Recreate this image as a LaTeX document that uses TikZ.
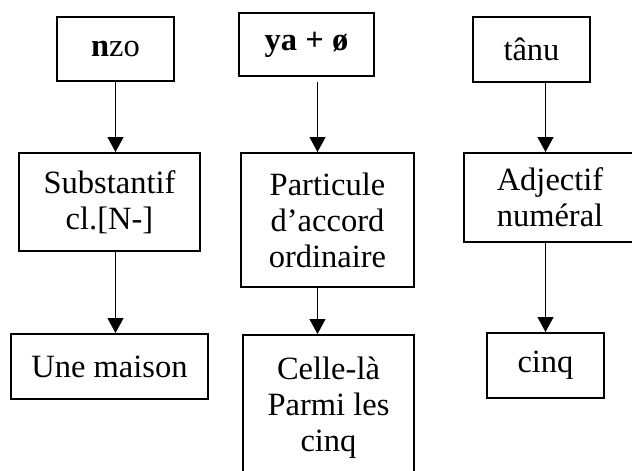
\documentclass[tikz,border=0pt]{standalone}
\usepackage{fontspec}
\setmainfont{Liberation Serif}
\usepackage{tikz}
\usetikzlibrary{arrows.meta, positioning, calc}

\begin{document}
\begin{tikzpicture}[x=1pt, y=-1pt,
    every node/.style={font=\fontsize{32.5}{36}\selectfont},
    box/.style={draw, line width=2pt, inner sep=0pt, align=center},
    arr/.style={line width=1.2pt, -{Triangle[length=15pt, width=16pt]}}]
    \useasboundingbox (0,0) rectangle (632,471);
    % first row
    \node[box, minimum width=117pt, minimum height=64pt] (nzo) at (115.5,49) {\textbf{n}zo};
    \node[box, minimum width=135pt, minimum height=63pt] (ya) at (306.5,44.5) {\textbf{ya + ø}};
    \node[box, minimum width=117pt, minimum height=65pt] (tanu) at (531.5,49.5) {tânu};
    % second row
    \node[box, minimum width=181pt, minimum height=98pt] (subst) at (109.5,202) {Substantif\\cl.[N-]};
    \node[box, minimum width=173pt, minimum height=134pt] (part) at (327.5,220) {Particule\\d’accord\\ordinaire};
    \node[box, minimum width=172pt, minimum height=89pt] (adj) at (550,197.5) {Adjectif\\numéral};
    % third row
    \node[box, minimum width=197pt, minimum height=65pt] (maison) at (109.5,366.5) {Une maison};
    \node[box, minimum width=171pt, minimum height=146pt] (celle) at (328.5,408) {Celle-là\\Parmi les\\cinq};
    \node[box, minimum width=117pt, minimum height=65pt] (cinq) at (545.5,365.5) {cinq};
    % connectors
    \coordinate (ya-out) at (317.5,82);
    \draw[arr] (nzo) -- (nzo |- subst.north);
    \draw[arr] (nzo |- subst.south) -- (nzo |- maison.north);
    \draw[arr] (ya-out) -- (ya-out |- part.north);
    \draw[arr] (ya-out |- part.south) -- (ya-out |- celle.north);
    \draw[arr] (cinq |- tanu.south) -- (cinq |- adj.north);
    \draw[arr] (cinq |- adj.south) -- (cinq);
\end{tikzpicture}
\end{document}
